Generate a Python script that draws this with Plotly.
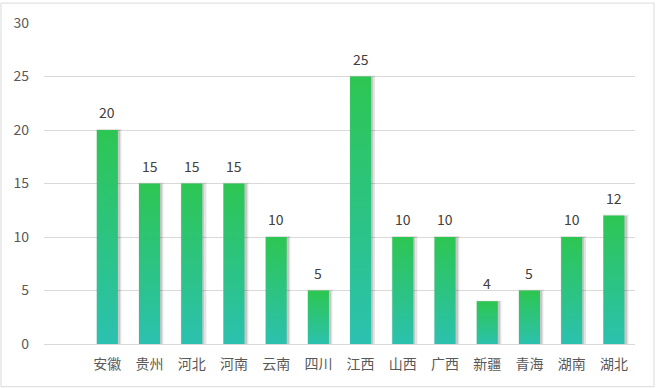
import plotly.graph_objects as go

categories = ["安徽", "贵州", "河北", "河南", "云南", "四川", "江西", "山西", "广西", "新疆", "青海", "湖南", "湖北"]
values = [20, 15, 15, 15, 10, 5, 25, 10, 10, 4, 5, 10, 12]
y_ticks = [0, 5, 10, 15, 20, 25, 30]

FONT = "Noto Sans CJK SC, Open Sans, sans-serif"
TOP_COLOR = "#2DC653"
BOTTOM_COLOR = "#2BC1B1"
BAR_HALF = 0.25

xs = list(range(len(categories)))

fig = go.Figure()

# soft shadow layers
fig.add_trace(go.Bar(x=[x + 0.04 for x in xs], y=[v + 0.12 for v in values], width=0.62,
                     marker=dict(color="rgba(0,0,0,0.04)", line=dict(width=0)),
                     hoverinfo="skip", showlegend=False))
fig.add_trace(go.Bar(x=[x + 0.04 for x in xs], y=[v + 0.06 for v in values], width=0.58,
                     marker=dict(color="rgba(0,0,0,0.07)", line=dict(width=0)),
                     hoverinfo="skip", showlegend=False))
fig.add_trace(go.Bar(x=[x + 0.03 for x in xs], y=values, width=0.54,
                     marker=dict(color="rgba(0,0,0,0.12)", line=dict(width=0)),
                     hoverinfo="skip", showlegend=False))

# gradient bars
for x, v, c in zip(xs, values, categories):
    fig.add_trace(go.Scatter(
        x=[x - BAR_HALF, x + BAR_HALF, x + BAR_HALF, x - BAR_HALF, x - BAR_HALF],
        y=[0, 0, v, v, 0],
        mode="lines", line=dict(width=0), fill="toself",
        fillgradient=dict(type="vertical", start=0, stop=v,
                          colorscale=[[0, BOTTOM_COLOR], [1, TOP_COLOR]]),
        name=c, hoverinfo="skip", showlegend=False))

for x, v in zip(xs, values):
    fig.add_annotation(x=x, y=v, text=str(v), showarrow=False, yanchor="middle", yshift=18,
                       font=dict(family=FONT, size=14, color="#404040"))

# chart border
fig.add_shape(type="rect", xref="paper", yref="paper",
              x0=(1 - 44) / 591, x1=(654 - 44) / 591,
              y0=(344 - 387) / 323, y1=(344 - 1) / 323,
              line=dict(color="#D9D9D9", width=1), fillcolor="rgba(0,0,0,0)", layer="below")

fig.update_layout(
    width=656, height=388,
    margin=dict(l=44, r=21, t=21, b=44),
    paper_bgcolor="white", plot_bgcolor="white",
    barmode="overlay", bargap=0,
    showlegend=False,
    font=dict(family=FONT, size=14, color="#595959"),
    xaxis=dict(range=[-1.5, 12.5], tickmode="array", tickvals=xs, ticktext=categories,
               showgrid=False, zeroline=False, showline=False, ticks="",
               ticklabelstandoff=10, fixedrange=True,
               tickfont=dict(family=FONT, size=14, color="#595959")),
    yaxis=dict(range=[0, 30], tickmode="array", tickvals=y_ticks,
               showgrid=True, gridcolor="#D9D9D9", gridwidth=1,
               zeroline=True, zerolinecolor="#D9D9D9", zerolinewidth=1,
               showline=False, ticks="", ticklabelstandoff=14, fixedrange=True,
               tickfont=dict(family=FONT, size=14, color="#595959")),
)

fig.write_html("out.html", config={"displayModeBar": False},
               post_script="document.body.style.margin='0';")
